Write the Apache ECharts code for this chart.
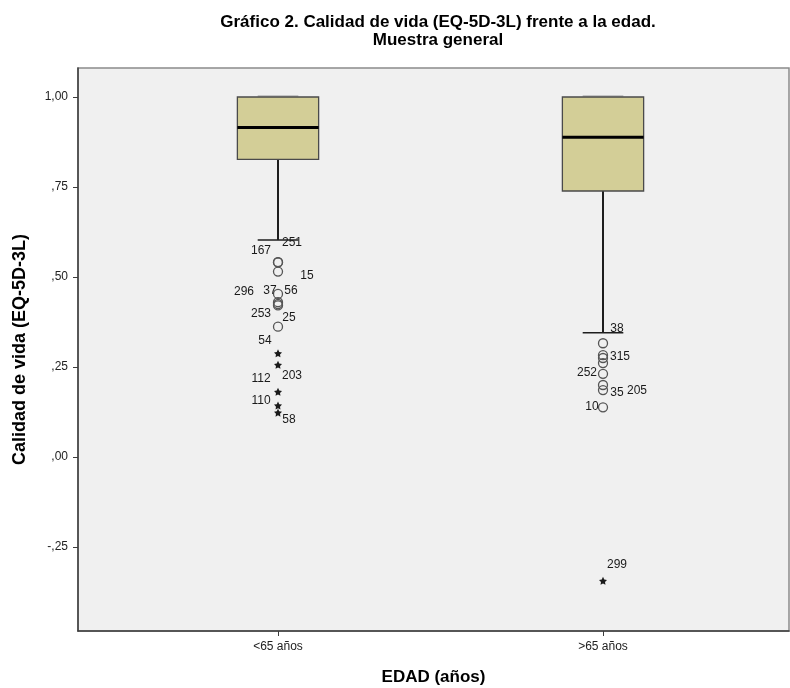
<!DOCTYPE html>
<html>
<head>
<meta charset="utf-8">
<script src="https://cdn.jsdelivr.net/npm/echarts@6/dist/echarts.min.js"></script>
<style>
  html, body { margin: 0; padding: 0; background: #ffffff; }
  #chart { width: 790px; height: 688px; }
</style>
</head>
<body>
<div id="chart"></div>
<script>
// EQ-5D-3L quality-of-life index by age group
const categories = ['<65 años', '>65 años'];
const whiskerLow = [0.603, 0.345];
const quartile1 = [0.827, 0.739];
const medians = [0.915, 0.888];
const quartile3 = [1.0, 1.0];
const whiskerHigh = [1.0, 1.0];
const yTicks = [-0.25, 0, 0.25, 0.5, 0.75, 1.0];

// Mild outliers (circles): group index, value, case number
const circleGroup = [0, 0, 0, 0, 0, 0, 0, 0, 1, 1, 1, 1, 1, 1, 1, 1];
const circleValue = [0.541, 0.541, 0.515, 0.453, 0.430, 0.425, 0.421, 0.362,
                     0.316, 0.283, 0.275, 0.261, 0.231, 0.200, 0.186, 0.138];
const circleCase = ['167', '251', '15', '37', '296', '56', '253', '25',
                    '38', '', '315', '', '252', '35', '205', '10'];

// Extreme outliers (stars)
const starGroup = [0, 0, 0, 0, 0, 1];
const starValue = [0.288, 0.256, 0.181, 0.143, 0.123, -0.344];
const starCase = ['54', '203', '112', '110', '58', '299'];

// Case-label nudges in px from the marker centre
const circleNudge = [[-17, -12], [14, -20], [29, 4], [-8, -3], [-34, -11], [13, -13], [-17, 8], [11, -9],
                     [14, -15], [0, 0], [17, -1], [0, 0], [-16, -1], [14, 8], [34, 1], [-11, -1]];
const starNudge = [[-13, -13], [14, 11], [-17, -13], [-17, -5], [11, 7], [14, -16]];

const FONT = '"Liberation Sans", Arial, sans-serif';

function fmtTick(v) {
  const r = Math.round(v * 100) / 100;
  let s = Math.abs(r).toFixed(2).replace('.', ',');
  if (s.startsWith('0')) s = s.slice(1);
  return (r < 0 ? '-' : '') + s;
}

const boxData = categories.map((c, i) =>
  [i, whiskerLow[i], quartile1[i], medians[i], quartile3[i], whiskerHigh[i]]);

const STAR = 'path://M0,-10L2.94,-4.05L9.51,-3.09L4.76,1.55L5.88,8.09L0,5L-5.88,8.09L-4.76,1.55L-9.51,-3.09L-2.94,-4.05Z';

// Case numbers are centred on the marker, then nudged
const caseLabel = {
  show: true, position: ['50%', '50%'], align: 'center', verticalAlign: 'middle',
  fontFamily: FONT, fontSize: 12, color: '#1a1a1a'
};

const chart = echarts.init(document.getElementById('chart'), null, { renderer: 'canvas' });

chart.setOption({
  animation: false,
  backgroundColor: '#ffffff',
  title: {
    text: 'Gráfico 2. Calidad de vida (EQ-5D-3L) frente a la edad.\nMuestra general',
    left: 433,
    top: 8,
    textAlign: 'center',
    textStyle: { fontFamily: FONT, fontSize: 17, fontWeight: 'bold', color: '#000', lineHeight: 18 }
  },
  grid: {
    left: 78, right: 1, top: 68, bottom: 57,
    outerBoundsMode: 'none',
    containLabel: false,
    show: true,
    backgroundColor: '#f0f0f0',
    borderColor: '#8a8a8a',
    borderWidth: 1.5
  },
  xAxis: {
    type: 'value',
    min: -0.6154,
    max: 1.5723,
    name: 'EDAD (años)',
    nameLocation: 'middle',
    nameGap: 38,
    nameTextStyle: { fontFamily: FONT, fontSize: 17, fontWeight: 'bold', color: '#000' },
    axisLine: { show: true, onZero: false, lineStyle: { color: '#3c3c3c', width: 1.5 } },
    axisTick: { show: true, customValues: [0, 1], length: 5, lineStyle: { color: '#3c3c3c' } },
    axisLabel: {
      customValues: [0, 1],
      formatter: v => categories[Math.round(v)],
      fontFamily: FONT, fontSize: 12, color: '#222', margin: 10
    },
    splitLine: { show: false }
  },
  yAxis: {
    type: 'value',
    min: -0.4833,
    max: 1.0806,
    name: 'Calidad de vida (EQ-5D-3L)',
    nameLocation: 'middle',
    nameGap: 49,
    nameTextStyle: { fontFamily: FONT, fontSize: 18, fontWeight: 'bold', color: '#000' },
    axisLine: { show: true, onZero: false, lineStyle: { color: '#3c3c3c', width: 1.5 } },
    axisTick: { show: true, customValues: yTicks, length: 5, lineStyle: { color: '#3c3c3c' } },
    axisLabel: {
      customValues: yTicks,
      formatter: fmtTick,
      fontFamily: FONT, fontSize: 12, color: '#222', margin: 10
    },
    splitLine: { show: false }
  },
  series: [
    {
      type: 'custom',
      data: boxData,
      z: 2,
      renderItem(params, api) {
        const x = api.value(0);
        const pLow = api.coord([x, api.value(1)]);
        const pQ1 = api.coord([x, api.value(2)]);
        const pMed = api.coord([x, api.value(3)]);
        const pQ3 = api.coord([x, api.value(4)]);
        const pHigh = api.coord([x, api.value(5)]);
        const boxW = api.size([0.25, 0])[0];
        const capW = boxW / 2;
        const cx = pQ1[0];
        return {
          type: 'group',
          children: [
            { type: 'line', shape: { x1: cx, y1: pQ1[1], x2: cx, y2: pLow[1] },
              style: { stroke: '#1e1e1e', lineWidth: 2 } },
            { type: 'line', shape: { x1: cx, y1: pQ3[1], x2: cx, y2: pHigh[1] },
              style: { stroke: '#1e1e1e', lineWidth: 2 } },
            { type: 'line', shape: { x1: cx - capW / 2, y1: pLow[1], x2: cx + capW / 2, y2: pLow[1] },
              style: { stroke: '#1e1e1e', lineWidth: 1.5 } },
            { type: 'line', shape: { x1: cx - capW / 2, y1: pHigh[1] - 1, x2: cx + capW / 2, y2: pHigh[1] - 1 },
              style: { stroke: '#9a9a9a', lineWidth: 1.2 } },
            { type: 'rect', shape: { x: cx - boxW / 2, y: pQ3[1], width: boxW, height: pQ1[1] - pQ3[1] },
              style: { fill: '#d3ce97', stroke: '#4a4a4a', lineWidth: 1.3 } },
            { type: 'line', shape: { x1: cx - boxW / 2, y1: pMed[1], x2: cx + boxW / 2, y2: pMed[1] },
              style: { stroke: '#000', lineWidth: 3 } }
          ]
        };
      }
    },
    {
      type: 'scatter',
      z: 3,
      symbol: 'circle',
      symbolSize: 9,
      itemStyle: { color: 'rgba(240,240,240,0)', borderColor: '#555', borderWidth: 1.3, opacity: 1 },
      label: caseLabel,
      data: circleValue.map((v, i) => ({
        value: [circleGroup[i], v],
        label: { show: circleCase[i] !== '', formatter: circleCase[i], offset: circleNudge[i] }
      }))
    },
    {
      type: 'scatter',
      z: 3,
      symbol: STAR,
      symbolSize: 8,
      itemStyle: { color: '#1a1a1a', opacity: 1 },
      label: caseLabel,
      data: starValue.map((v, i) => ({
        value: [starGroup[i], v],
        label: { formatter: starCase[i], offset: starNudge[i] }
      }))
    }
  ]
});
</script>
</body>
</html>
